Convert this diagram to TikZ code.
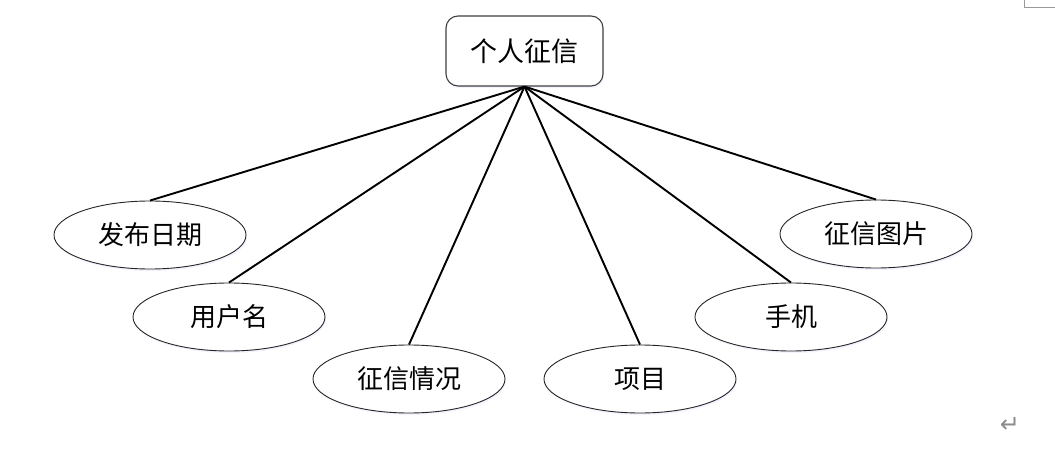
\documentclass[tikz,border=0pt]{standalone}
\usepackage{fontspec}
\newfontfamily\cjk{Noto Sans CJK SC}
\newfontfamily\dejavu{DejaVu Sans}
\usetikzlibrary{shapes.geometric,shadows}
\tikzset{
  topbox/.style={draw=black!75, line width=1.1pt, rounded corners=12pt, fill=white,
    minimum width=157pt, minimum height=70pt, inner sep=0pt, font=\cjk\fontsize{27}{27}\selectfont,
    drop shadow={opacity=0.12, fill=blue!40, shadow xshift=1pt, shadow yshift=-2pt}},
  leaf/.style={ellipse, draw=black!85, line width=0.9pt, fill=white,
    minimum width=192pt, minimum height=68pt, inner sep=0pt, font=\cjk\fontsize{26}{26}\selectfont,
    drop shadow={opacity=0.12, fill=blue!40, shadow xshift=1pt, shadow yshift=-2pt}},
  link/.style={line width=1.9pt, black},
  cornermark/.style={draw=black!40, line width=1pt}
}
\begin{document}
\begin{tikzpicture}[x=1pt,y=-1pt]
\useasboundingbox (0,0) rectangle (1055,449);
\node[topbox] (root) at (524.5,51) {个人征信};
\node[leaf] (a) at (150,235) {发布日期};
\node[leaf] (b) at (229,317) {用户名};
\node[leaf] (c) at (409,379) {征信情况};
\node[leaf] (d) at (640,379) {项目};
\node[leaf] (e) at (791,317) {手机};
\node[leaf] (f) at (876,234) {征信图片};
\foreach \n in {a,b,c,d,e,f}{\draw[link] (root.south) -- (\n.north);}
\coordinate (m1) at (1024,0);
\coordinate (m2) at (1024,8);
\coordinate (m3) at (1055,8);
\draw[cornermark] (m1) -- (m2) -- (m3);
\node[text=black!45, font=\dejavu\fontsize{24}{24}\selectfont] (ret) at (1010,425) {↵};
\end{tikzpicture}
\end{document}
